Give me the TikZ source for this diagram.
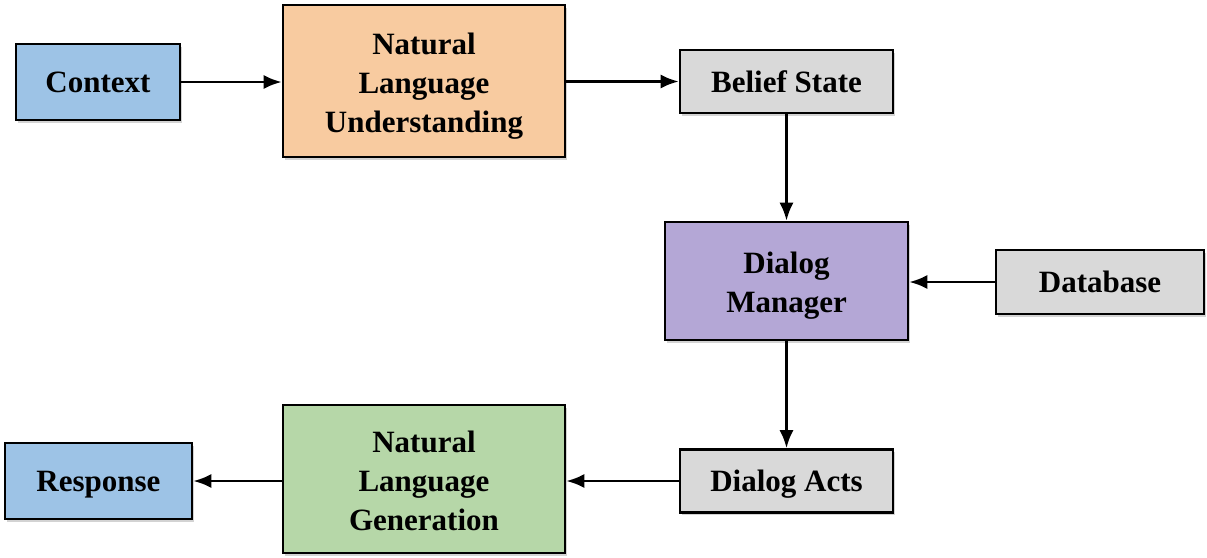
\documentclass[tikz,border=0pt]{standalone}
\usepackage{fontspec}
\setmainfont{Liberation Serif}
\usetikzlibrary{arrows.meta,shadows}
\definecolor{cblue}{HTML}{9DC3E6}
\definecolor{corange}{HTML}{F8CBA0}
\definecolor{cgrey}{HTML}{D9D9D9}
\definecolor{cpurple}{HTML}{B4A7D6}
\definecolor{cgreen}{HTML}{B6D7A8}
\newcommand{\dnshift}[2]{\raisebox{-#1}[\height][\depth]{\begin{tabular}{@{}c@{}}#2\end{tabular}}}
\begin{document}
\begin{tikzpicture}[x=1pt,y=-1pt,
  box/.style={draw=black, line width=2.6pt, rectangle, inner sep=0pt, align=center,
    font=\fontsize{31}{39}\selectfont\bfseries,
    drop shadow={shadow xshift=1.5pt, shadow yshift=-2.5pt, opacity=0.35}},
  conn/.style={line width=2.6pt, -{Latex[length=18pt,width=14pt]}}]
\useasboundingbox (0,0) rectangle (1207,557);
\node[box, fill=cblue, minimum width=164pt, minimum height=76pt] (ctx) at (98,82) {\dnshift{3pt}{Context}};
\node[box, fill=corange, minimum width=282pt, minimum height=152pt] (nlu) at (424,81) {\dnshift{5pt}{Natural\\Language\\Understanding}};
\node[box, fill=cgrey, minimum width=213pt, minimum height=63pt] (bs) at (786.5,81.5) {\dnshift{3pt}{Belief State}};
\node[box, fill=cpurple, minimum width=243pt, minimum height=118pt] (dm) at (786.5,281) {\dnshift{4pt}{Dialog\\Manager}};
\node[box, fill=cgrey, minimum width=208pt, minimum height=64pt] (db) at (1100,282) {\dnshift{3pt}{Database}};
\node[box, fill=cgrey, minimum width=213pt, minimum height=63pt] (da) at (786.5,481) {\dnshift{3pt}{Dialog Acts}};
\node[box, fill=cgreen, minimum width=282pt, minimum height=148pt] (nlg) at (424,479) {\dnshift{5pt}{Natural\\Language\\Generation}};
\node[box, fill=cblue, minimum width=187pt, minimum height=76pt] (resp) at (98.5,481) {\dnshift{3pt}{Response}};
\draw[conn] (ctx.east) -- (ctx.east -| nlu.west);
\draw[conn] (nlu.east |- bs.west) -- (bs.west);
\draw[conn] (bs.south) -- (dm.north);
\draw[conn] (db.west) -- (db.west -| dm.east);
\draw[conn] (dm.south) -- (da.north);
\draw[conn] (da.west) -- (da.west -| nlg.east);
\draw[conn] (nlg.west |- resp.east) -- (resp.east);
\end{tikzpicture}
\end{document}
